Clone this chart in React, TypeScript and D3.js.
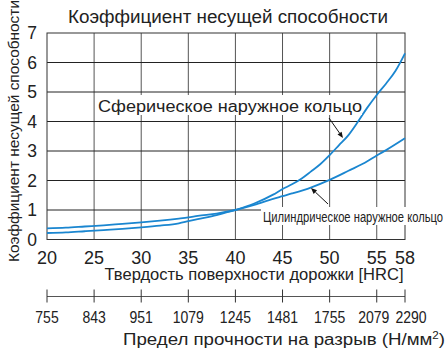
import React from "react";
import * as d3 from "d3";

const hrcTicks = [20, 25, 30, 35, 40, 45, 50, 55, 58];
const yTicks = [0, 1, 2, 3, 4, 5, 6, 7];
const strengthLabels = ["755", "843", "951", "1079", "1245", "1481", "1755", "2079", "2290"];
const strengthPos = [20, 25, 30, 35, 40, 45, 50, 55, 58];

const hrcS = [20, 22, 24, 26, 28, 30, 32, 34, 35, 36, 38, 40, 42, 44, 45, 46, 47, 48, 49, 50, 51, 52, 53, 54, 55, 56, 57, 58];
const spherical = [0.22, 0.24, 0.28, 0.32, 0.36, 0.41, 0.47, 0.55, 0.62, 0.69, 0.83, 1.0, 1.22, 1.52, 1.71, 1.87, 2.06, 2.3, 2.55, 2.86, 3.2, 3.54, 3.99, 4.47, 4.9, 5.29, 5.72, 6.31];
const hrcC = [20, 22, 24, 26, 28, 30, 32, 34, 35, 36, 38, 40, 42, 44, 45, 46, 48, 50, 52, 54, 55, 56, 58];
const cylindrical = [0.38, 0.4, 0.44, 0.48, 0.53, 0.58, 0.64, 0.71, 0.75, 0.8, 0.88, 1.0, 1.17, 1.38, 1.47, 1.56, 1.76, 2.02, 2.33, 2.65, 2.85, 3.03, 3.43];

const FONT = "'Liberation Sans', Arial, sans-serif";
const BLUE = "#1a86d0";

export default function App() {
  const x = d3.scaleLinear().domain([20, 58]).range([47, 405]);
  const y = d3.scaleLinear().domain([0, 7]).range([239.5, 33]);
  const mkLine = (xs: number[]) =>
    d3
      .line<number>()
      .x((_, i) => x(xs[i]))
      .y((d) => y(d))
      .curve(d3.curveMonotoneX);

  const arrow = (x1: number, y1: number, x2: number, y2: number) => {
    const a = Math.atan2(y2 - y1, x2 - x1);
    const L = 6, W = 2.5;
    const bx = x2 - L * Math.cos(a), by = y2 - L * Math.sin(a);
    const p = [
      [x2, y2],
      [bx + W * Math.sin(a), by - W * Math.cos(a)],
      [bx - W * Math.sin(a), by + W * Math.cos(a)],
    ];
    return (
      <g>
        <line x1={x1} y1={y1} x2={bx} y2={by} stroke="#111" strokeWidth={1} />
        <polygon points={p.map((q) => q.join(",")).join(" ")} fill="#111" />
      </g>
    );
  };

  const n = strengthPos.length;
  const nudge = (i: number) => (i === n - 1 ? 6 : i === n - 2 ? -3 : 0);

  return (
    <svg width={447} height={348} style={{ position: "absolute", left: 0, top: 0, background: "#fff" }}>
      <rect width={447} height={348} fill="#fff" />
      <text x={228} y={23} textAnchor="middle" fontFamily={FONT} fontSize={18} fill="#222" textLength={320} lengthAdjust="spacingAndGlyphs">
        Коэффициент несущей способности
      </text>
      <text
        transform={`translate(19,131) rotate(-90)`}
        textAnchor="middle"
        fontFamily={FONT}
        fontSize={14}
        fill="#222"
        textLength={262}
        lengthAdjust="spacingAndGlyphs"
      >
        Коэффициент несущей способности
      </text>
      {/* grid */}
      {hrcTicks.slice(1, -1).map((t) => (
        <line key={"v" + t} x1={x(t)} x2={x(t)} y1={y(7)} y2={y(0)} stroke="#555" strokeWidth={1} />
      ))}
      {yTicks.slice(1, -1).map((t) => (
        <line key={"h" + t} x1={x(20)} x2={x(58)} y1={y(t)} y2={y(t)} stroke="#222" strokeWidth={1} />
      ))}
      <rect x={x(20)} y={y(7)} width={x(58) - x(20)} height={y(0) - y(7)} fill="none" stroke="#333" strokeWidth={1} />
      {yTicks.map((t) => (
        <text key={"yt" + t} x={37} y={y(t) + 6} textAnchor="end" fontFamily={FONT} fontSize={17.5} fill="#222">
          {t}
        </text>
      ))}
      {hrcTicks.map((t) => (
        <text key={"xt" + t} x={x(t)} y={263.5} textAnchor="middle" fontFamily={FONT} fontSize={18} fill="#222">
          {t}
        </text>
      ))}
      <text x={254} y={280} textAnchor="middle" fontFamily={FONT} fontSize={16} fill="#222" textLength={299} lengthAdjust="spacingAndGlyphs">
        Твердость поверхности дорожки [HRC]
      </text>
      {/* second axis */}
      <line x1={x(20)} x2={x(58)} y1={296.5} y2={296.5} stroke="#555" strokeWidth={1} />
      {strengthPos.map((p, i) => (
        <g key={"s" + i}>
          <line x1={x(p)} x2={x(p)} y1={289.5} y2={302.5} stroke="#333" strokeWidth={1} />
          <g transform={`translate(${x(p) + nudge(i)},323) scale(0.85,1)`}>
            <text x={0} y={0} textAnchor="middle" fontFamily={FONT} fontSize={16.5} fill="#222">
              {strengthLabels[i]}
            </text>
          </g>
        </g>
      ))}
      <text x={445} y={345} textAnchor="end" fontFamily={FONT} fontSize={16} fill="#222" textLength={322} lengthAdjust="spacingAndGlyphs">
        Предел прочности на разрыв (Н/мм<tspan fontSize={10} dy={-6}>2</tspan><tspan dy={6}>)</tspan>
      </text>
      {/* curves */}
      <path d={mkLine(hrcC)(cylindrical) || ""} fill="none" stroke={BLUE} strokeWidth={1.8} />
      <path d={mkLine(hrcS)(spherical) || ""} fill="none" stroke={BLUE} strokeWidth={1.8} />
      {/* labels */}
      <rect x={96} y={95} width={266} height={20} fill="#fff" />
      <text x={98} y={112} fontFamily={FONT} fontSize={16} fill="#222" textLength={264} lengthAdjust="spacingAndGlyphs">
        Сферическое наружное кольцо
      </text>
      {arrow(329, 118, 343, 138)}
      <rect x={261} y={207} width={185} height={18} fill="#fff" />
      <g transform="translate(263,222) scale(0.72,1)">
        <text x={0} y={0} fontFamily={FONT} fontSize={14.5} fill="#222" textLength={250} lengthAdjust="spacingAndGlyphs">
          Цилиндрическое наружное кольцо
        </text>
      </g>
      {arrow(328, 204, 311, 188)}
    </svg>
  );
}
